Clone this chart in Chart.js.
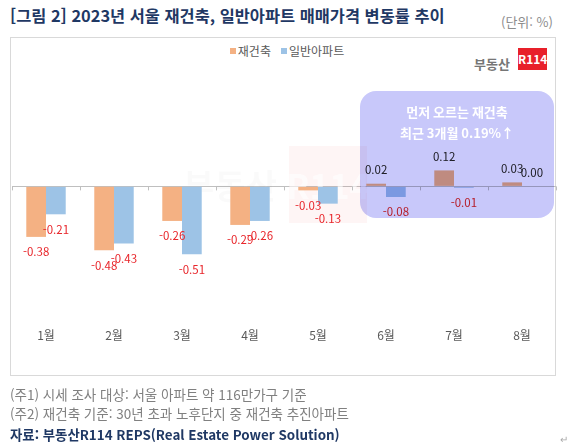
<!DOCTYPE html>
<html lang="ko">
<head>
<meta charset="utf-8">
<script src="https://cdn.jsdelivr.net/npm/chart.js@4.4.0/dist/chart.umd.min.js"></script>
<style>
  body { margin: 0; background: #fff; font-family: "Noto Sans CJK KR", "Noto Sans", sans-serif; }
  #page { position: relative; width: 580px; height: 447px; overflow: hidden; }
  .abs { position: absolute; white-space: nowrap; }
  #title { left: 10px; top: 3px; font-size: 16.4px; font-weight: bold; color: #1f3864; }
  #unit { left: 501px; top: 12px; font-size: 13px; color: #8c8c8c; }
  #box { left: 10px; top: 37px; width: 546px; height: 339px; border: 1px solid #d9d9d9; box-sizing: border-box; }
  #legend { left: 0; width: 574px; top: 42px; text-align: center; font-size: 12px; color: #595959; }
  #legend span.sw { display: inline-block; width: 6px; height: 6px; margin-right: 2px; vertical-align: 2px; }
  #logoTxt { left: 474px; top: 54px; font-size: 13px; font-weight: bold; color: #767676; }
  #logoBox { left: 518px; top: 48px; width: 29px; height: 22px; background: #e8202a; color: #fff; font-size: 12px; font-weight: bold; line-height: 22px; text-align: center; }
  #chart { position: absolute; left: 0; top: 0; }
  .note { left: 10px; font-size: 13.5px; color: #808080; }
  #src { left: 10px; top: 424px; font-size: 13.4px; font-weight: bold; color: #1f3864; }
  #ret { left: 560px; top: 431px; font-size: 10px; color: #aaa; }
</style>
</head>
<body>
<div id="page">
  <div class="abs" id="title">[그림 2] 2023년 서울 재건축, 일반아파트 매매가격 변동률 추이</div>
  <div class="abs" id="unit">(단위: %)</div>
  <div class="abs" id="box"></div>
  <div class="abs" id="legend"><span class="sw" style="background:#f4b183"></span>재건축 &nbsp; <span class="sw" style="background:#9dc3e6"></span>일반아파트</div>
  <div class="abs" id="logoTxt">부동산</div>
  <div class="abs" id="logoBox">R114</div>
  <canvas id="chart" width="580" height="447"></canvas>
  <div class="abs note" style="top:384px">(주1) 시세 조사 대상: 서울 아파트 약 116만가구 기준</div>
  <div class="abs note" style="top:403px">(주2) 재건축 기준: 30년 초과 노후단지 중 재건축 추진아파트</div>
  <div class="abs" id="src">자료: 부동산R114 REPS(Real Estate Power Solution)</div>
  <div class="abs" id="ret">↵</div>
</div>
<script>
// Months shown on the category axis
const months = ['1월', '2월', '3월', '4월', '5월', '6월', '7월', '8월'];

// Monthly price change rate (%)
const rebuildValues = [-0.38, -0.48, -0.26, -0.29, -0.03, 0.02, 0.12, 0.03];
const generalValues = [-0.21, -0.43, -0.51, -0.26, -0.13, -0.08, -0.01, 0.00];

const seriesNames = ['재건축', '일반아파트'];

// Callout text over the last three months
const calloutLines = ['먼저 오르는 재건축', '최근 3개월 0.19%↑'];
const calloutFrom = 5;   // index of 6월
const calloutTo = 7;     // index of 8월

const labelFont = '11.5px "Noto Sans CJK KR", "Noto Sans", sans-serif';

// Faint watermark behind the bars
const watermarkPlugin = {
    id: 'watermark',
    beforeDatasetsDraw(chart) {
        let ctx = chart.ctx;
        let x = chart.scales.x;
        ctx.save();
        ctx.fillStyle = 'rgba(240, 60, 60, 0.05)';
        ctx.fillRect(x.getPixelForValue(4) - 29, 146, 78, 77);
        ctx.font = 'bold 34px "Noto Sans CJK KR", sans-serif';
        ctx.fillStyle = 'rgba(0, 0, 0, 0.02)';
        ctx.textAlign = 'center';
        ctx.textBaseline = 'middle';
        ctx.fillText('부동산', x.getPixelForValue(3) - 20, 186);
        ctx.fillStyle = 'rgba(255, 255, 255, 0.6)';
        ctx.fillText('R114', x.getPixelForValue(4) + 10, 186);
        ctx.restore();
    }
};

// Small tick marks along the zero line between categories
const zeroTicksPlugin = {
    id: 'zeroTicks',
    afterDatasetsDraw(chart) {
        let ctx = chart.ctx;
        let x = chart.scales.x;
        let y0 = chart.scales.y.getPixelForValue(0);
        ctx.save();
        ctx.strokeStyle = '#bfbfbf';
        ctx.lineWidth = 1;
        for (let i = 0; i <= months.length; i++) {
            let px = Math.round(x.getPixelForValue(i - 0.5)) + 0.5;
            ctx.beginPath();
            ctx.moveTo(px, y0);
            ctx.lineTo(px, y0 + 4);
            ctx.stroke();
        }
        ctx.restore();
    }
};

// Value labels: negatives in red below the bar end, positives dark above it
const valueLabelPlugin = {
    id: 'valueLabels',
    afterDatasetsDraw(chart) {
        let ctx = chart.ctx;
        ctx.save();
        ctx.font = labelFont;
        ctx.textAlign = 'center';
        ctx.textBaseline = 'middle';
        chart.data.datasets.forEach(function (ds, di) {
            let meta = chart.getDatasetMeta(di);
            meta.data.forEach(function (bar, i) {
                let v = ds.data[i];
                if (v < 0) {
                    ctx.fillStyle = '#e8262b';
                    ctx.fillText(v.toFixed(2), bar.x, bar.y + 15);
                } else {
                    ctx.fillStyle = '#262626';
                    ctx.fillText(v.toFixed(2), bar.x, bar.y - 14);
                }
            });
        });
        ctx.restore();
    }
};

// Lavender callout box laid over the last three months
const calloutPlugin = {
    id: 'callout',
    afterDraw(chart) {
        let ctx = chart.ctx;
        let x = chart.scales.x;
        let left = x.getPixelForValue(calloutFrom) - 26;
        let right = x.getPixelForValue(calloutTo) + 32;
        let top = 91, bottom = 218;
        ctx.save();
        ctx.globalCompositeOperation = 'multiply';
        ctx.fillStyle = '#c8c8fa';
        ctx.beginPath();
        ctx.roundRect(left, top, right - left, bottom - top, 16);
        ctx.fill();
        ctx.globalCompositeOperation = 'source-over';
        ctx.fillStyle = '#ffffff';
        ctx.font = 'bold 13px "Noto Sans CJK KR", "Noto Sans", sans-serif';
        ctx.textAlign = 'center';
        ctx.textBaseline = 'middle';
        let cx = (left + right) / 2;
        ctx.fillText(calloutLines[0], cx, 112);
        ctx.fillText(calloutLines[1], cx, 133);
        ctx.restore();
    }
};

let ctx = document.getElementById('chart').getContext('2d');

let myChart = new Chart(ctx, {
    type: 'bar',
    data: {
        labels: months,
        datasets: [{
            label: seriesNames[0],
            data: rebuildValues,
            backgroundColor: '#f4b183',
            categoryPercentage: 0.58,
            barPercentage: 1.0
        }, {
            label: seriesNames[1],
            data: generalValues,
            backgroundColor: '#9dc3e6',
            categoryPercentage: 0.58,
            barPercentage: 1.0
        }]
    },
    plugins: [watermarkPlugin, zeroTicksPlugin, valueLabelPlugin, calloutPlugin],
    options: {
        responsive: false,
        animation: false,
        layout: { padding: { left: 12, right: 24, top: 80, bottom: 103 } },
        plugins: {
            legend: { display: false },
            tooltip: { enabled: false }
        },
        scales: {
            x: {
                grid: { display: false },
                border: { display: false },
                ticks: {
                    color: '#595959',
                    font: { size: 12, family: '"Noto Sans CJK KR", "Noto Sans", sans-serif' },
                    padding: -2
                },
                afterFit(scale) { scale.height = 22; }
            },
            y: {
                min: -1.02,
                max: 0.8,
                ticks: { display: false, stepSize: 0.1 },
                border: { display: false },
                grid: {
                    drawTicks: false,
                    color(c) { return Math.abs(c.tick.value) < 1e-9 ? '#bfbfbf' : 'rgba(0,0,0,0)'; }
                },
                afterFit(scale) { scale.width = 0; }
            }
        }
    }
});
</script>
</body>
</html>
